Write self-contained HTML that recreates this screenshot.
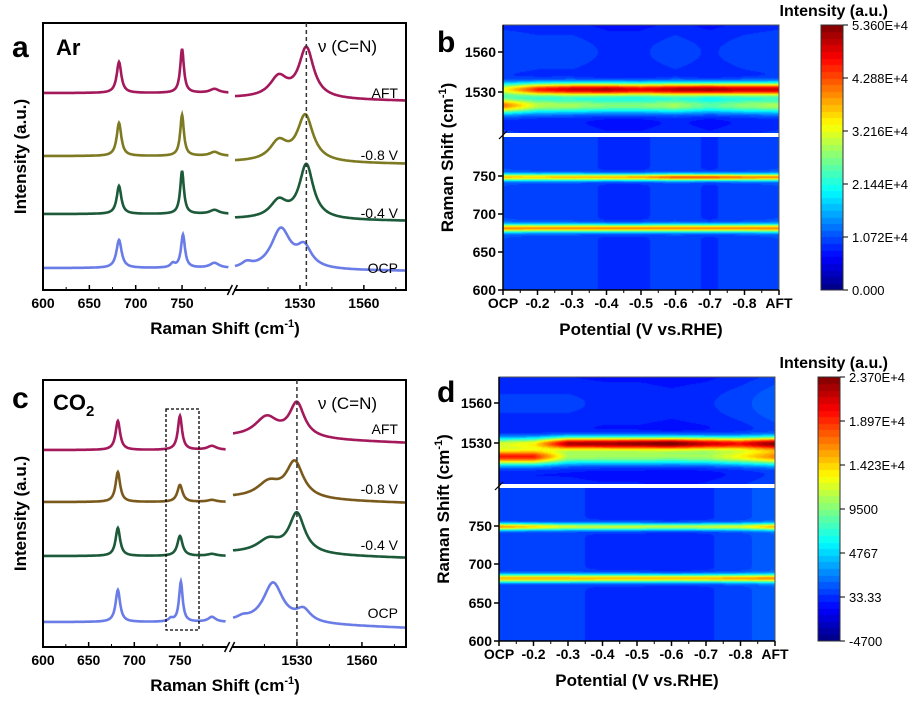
<!DOCTYPE html>
<html><head><meta charset="utf-8"><style>
body{margin:0;background:#fff;width:908px;height:701px;overflow:hidden;position:relative;font-family:"Liberation Sans",Arial,sans-serif}
canvas{position:absolute}
svg{position:absolute;left:0;top:0}
</style></head><body>
<canvas id="hb" width="276" height="265" style="left:503px;top:25px"></canvas>
<canvas id="hd" width="276" height="264" style="left:499px;top:377px"></canvas>
<canvas id="cbb" width="22" height="265" style="left:821px;top:25px"></canvas>
<canvas id="cbd" width="22" height="264" style="left:818px;top:377px"></canvas>
<svg id="s" width="908" height="701"></svg>
<script>
// ---------- DATA ----------
const potentials=['OCP','-0.2','-0.3','-0.4','-0.5','-0.6','-0.7','-0.8','AFT'];
const seriesNames=['AFT','-0.8 V','-0.4 V','OCP'];
// Panel a (Ar) spectra: peaks [position, height, hwhm]
const aBaseLeft=[93,156,214,268];
const aBaseRight=[[98,101],[162,164],[219,221],[270,271]];
const aPeaksLeft=[[[682,31,3],[750,44,2.4],[785,4,6]],[[682,33,3],[750,41,2.4],[785,4,6]],[[682,28,3],[750,43,2.4],[785,4,6]],[[682,28,3.4],[751,33,2.6],[785,5,6],[740,4,3]]];
const aPeaksRight=[[[1520,20,5],[1533,50,4.2]],[[1520,19,5],[1532.5,46,4.5]],[[1520,17,4.8],[1533,54,4]],[[1521,40,5.5],[1532,20,4.2],[1505,5,3]]];
// Panel c (CO2) spectra
const cBaseLeft=[450,502,556,622];
const cBaseRight=[[437,443],[498,503],[553,558],[622,628]];
const cPeaksLeft=[[[682,29,3],[750,34,2.8],[785,4,6]],[[682,30,3],[750,17,3.4],[785,2,6]],[[682,28,3],[750,20,3.4],[785,2,6]],[[682,32,3],[751,40,2.4],[785,5,5],[740,3,3]]];
const cPeaksRight=[[[1516,20,6.5],[1530,34,4.2]],[[1517,15,6.5],[1529,36,4.8]],[[1517,13,6.5],[1530,40,4.4]],[[1519,40,5.5],[1533,12,4],[1505,3,3]]];
// Heatmap b (normalized intensity 0..1 of 5.36E4)
const bBand1532=[0.45,0.7,0.78,0.82,0.76,0.8,0.84,0.78,0.78];
const bBand1520=[0.62,0.42,0.4,0.38,0.38,0.4,0.34,0.38,0.4];
const bBand750=[0.48,0.48,0.5,0.52,0.54,0.6,0.62,0.56,0.54];
const bBand682=[0.54,0.54,0.54,0.56,0.56,0.54,0.56,0.54,0.54];
const bBg=[0.2,0.19,0.19,0.17,0.17,0.19,0.17,0.19,0.2];
// Heatmap d (normalized over -4700..2.37E4)
const dBand1530=[0.4,0.45,0.8,0.82,0.84,0.88,0.78,0.7,0.8];
const dBand1520=[0.72,0.72,0.4,0.4,0.4,0.4,0.4,0.48,0.58];
const dBand750=[0.55,0.48,0.4,0.4,0.4,0.4,0.4,0.4,0.48];
const dBand682=[0.52,0.52,0.52,0.52,0.52,0.52,0.52,0.52,0.52];
const dBg=[0.18,0.18,0.18,0.17,0.17,0.16,0.17,0.19,0.22];
const cbbLabels=['5.360E+4','4.288E+4','3.216E+4','2.144E+4','1.072E+4','0.000'];
const cbdLabels=['2.370E+4','1.897E+4','1.423E+4','9500','4767','33.33','-4700'];
const colors={a:['#a3195b','#7d7a22','#1c5a3a','#6a7ce6'],c:['#a3195b','#7a5a1c','#1c5a3a','#6a7ce6']};

// ---------- helpers ----------
const NS='http://www.w3.org/2000/svg';const svg=document.getElementById('s');
function el(t,a,txt){const e=document.createElementNS(NS,t);for(const k in a)e.setAttribute(k,a[k]);if(txt!==undefined)e.textContent=txt;svg.appendChild(e);return e;}
function text(x,y,s,size,opts){opts=opts||{};const e=el('text',{x:x,y:y,'font-size':size,'font-weight':opts.w||'bold','text-anchor':opts.a||'start',fill:'#000','font-family':'"Liberation Sans",Arial,sans-serif'},s);if(opts.rot)e.setAttribute('transform','rotate(-90 '+x+' '+y+')');return e;}
function lor(x,p){return p[1]/(1+((x-p[0])/p[2])**2);}
function jet(v){v=Math.max(0,Math.min(1,v));const r=Math.min(4*v-1.5,-4*v+4.5),g=Math.min(4*v-0.5,-4*v+3.5),b=Math.min(4*v+0.5,-4*v+2.5);const c=x=>Math.round(255*Math.max(0,Math.min(1,x)));return [c(r),c(g),c(b)];}
function interp(arr,p){const i=Math.min(arr.length-2,Math.floor(p)),f=p-i;return arr[i]*(1-f)+arr[i+1]*f;}

// ---------- spectra panels ----------
function spectra(P){
  const xl=wn=>P.x0+(wn-600)*P.kl, xr=wn=>P.xrs+(wn-P.wr0)*P.kr;
  for(let s=0;s<4;s++){
    let d='';
    for(let wn=600;wn<=800;wn+=0.5){let v=0;P.pl[s].forEach(p=>v+=lor(wn,p));const y=P.bl[s]-v;d+=(wn==600?'M':'L')+xl(wn).toFixed(1)+','+y.toFixed(1);}
    const p1=el('path',{d:d,fill:'none',stroke:P.col[s],'stroke-width':2.6});
    
    
    d='';
    for(let wn=P.wr0;wn<=1580;wn+=0.25){let v=0;P.pr[s].forEach(p=>v+=lor(wn,p));const f=(wn-P.wr0)/(1580-P.wr0);const b=P.br[s][0]*(1-f)+P.br[s][1]*f;d+=(wn==P.wr0?'M':'L')+xr(wn).toFixed(1)+','+(b-v).toFixed(1);}
    const p2=el('path',{d:d,fill:'none',stroke:P.col[s],'stroke-width':2.6});
    
    
    const t=text(398,P.lab[s],seriesNames[s],14,{w:'normal',a:'end'});
  }
  el('rect',{x:43,y:P.y0,width:363,height:P.y1-P.y0,fill:'none',stroke:'#000','stroke-width':2,});
  el('rect',{x:xl(800)+1,y:P.y1-3,width:xr(P.wr0)-xl(800)-2,height:6,fill:'#fff'});
  el('line',{x1:xl(800)-1,y1:P.y1+5,x2:xl(800)+4,y2:P.y1-5,stroke:'#000','stroke-width':1.5});
  el('line',{x1:xl(800)+4,y1:P.y1+5,x2:xl(800)+9,y2:P.y1-5,stroke:'#000','stroke-width':1.5});
  [600,650,700,750].forEach(w=>{el('line',{x1:xl(w),y1:P.y1,x2:xl(w),y2:P.y1-5,stroke:'#000','stroke-width':1.5});text(xl(w),P.y1+18,String(w),14,{a:'middle'});});
  [625,675,725,775].forEach(w=>el('line',{x1:xl(w),y1:P.y1,x2:xl(w),y2:P.y1-3,stroke:'#000','stroke-width':1}));
  [1530,1560].forEach(w=>{el('line',{x1:xr(w),y1:P.y1,x2:xr(w),y2:P.y1-5,stroke:'#000','stroke-width':1.5});text(xr(w),P.y1+18,String(w),14,{a:'middle'});});
  [1515,1545,1575].forEach(w=>el('line',{x1:xr(w),y1:P.y1,x2:xr(w),y2:P.y1-3,stroke:'#000','stroke-width':1}));
  el('line',{x1:xr(P.dash),y1:P.y0,x2:xr(P.dash),y2:P.y1,stroke:'#333','stroke-width':1.5,'stroke-dasharray':'4,3',});
  text(318,P.y0+29,'ν (C=N)',17,{w:'normal'});
  text(225,P.y1+44,'',17,{a:'middle'}).innerHTML='Raman Shift (cm<tspan dy="-7" font-size="11">-1</tspan><tspan dy="7">)</tspan>';
  text(26,P.y0+(P.y1-P.y0)/2,'Intensity (a.u.)',17,{a:'middle',rot:1});
}
spectra({id:'a',x0:43,kl:0.927,xrs:235,wr0:1499.5,kr:2.13,y0:23,y1:290,bl:aBaseLeft,br:aBaseRight,pl:aPeaksLeft,pr:aPeaksRight,col:colors.a,lab:[98,160,218,273],dash:1533});
spectra({id:'c',x0:43,kl:0.913,xrs:233,wr0:1500.5,kr:2.167,y0:380,y1:647,bl:cBaseLeft,br:cBaseRight,pl:cPeaksLeft,pr:cPeaksRight,col:colors.c,lab:[434,494,550,618],dash:1530});
text(12,57,'a',30);text(56,55,'Ar',22);
text(12,408,'c',30);text(53,410,'',22).innerHTML='CO<tspan dy="6" font-size="15">2</tspan>';
el('rect',{x:166,y:409,width:33,height:221,fill:'none',stroke:'#000','stroke-width':1.3,'stroke-dasharray':'3,2',});

// ---------- heatmaps ----------
function heat(cv,P){
  const c=document.getElementById(cv),ctx=c.getContext('2d'),W=c.width,H=c.height,img=ctx.createImageData(W,H);
  for(let y=0;y<H;y++){
    const Y=P.top+y;let wn,top;
    if(Y<P.gapTop){top=true;wn=P.tw0-(Y-P.top)/P.tk;}else{top=false;wn=600+(P.bottom-Y)/P.bk;}
    for(let x=0;x<W;x++){
      const p=x/(W-1)*8;let v=interp(P.bg,p)*(top?(0.85+0.15*Math.cos((wn-1560)/12)):1);
      if(top){v+=interp(P.b1,p)*Math.exp(-0.5*((wn-P.c1)/3.4)**2)+interp(P.b2,p)*Math.exp(-0.5*((wn-1520)/4.2)**2);}
      else{v+=interp(P.b3,p)*Math.exp(-0.5*((wn-749)/3.1)**2)+interp(P.b4,p)*Math.exp(-0.5*((wn-682)/3.6)**2);}
      v=Math.floor(Math.min(1,v)*40)/40+0.0125;
      const col=jet(v),i=(y*W+x)*4;img.data[i]=col[0];img.data[i+1]=col[1];img.data[i+2]=col[2];img.data[i+3]=255;
    }
  }
  ctx.putImageData(img,0,0);
}
heat('hb',{top:25,gapTop:133,bottom:290,tw0:1580,tk:1.333,bk:0.76,c1:1532,b1:bBand1532,b2:bBand1520,b3:bBand750,b4:bBand682,bg:bBg});
heat('hd',{top:377,gapTop:484,bottom:641,tw0:1579.5,tk:1.333,bk:0.77,c1:1530,b1:dBand1530,b2:dBand1520,b3:dBand750,b4:dBand682,bg:dBg});
function cbar(cv){const c=document.getElementById(cv),ctx=c.getContext('2d');for(let y=0;y<c.height;y++){const v=Math.floor((1-y/c.height)*40)/40+0.0125;const k=jet(v);ctx.fillStyle='rgb('+k+')';ctx.fillRect(0,y,c.width,1);}}
cbar('cbb');cbar('cbd');

function mapAxes(P){
  const X=i=>P.x0+i*(P.x1-P.x0)/8;
  el('rect',{x:P.x0,y:P.gap0,width:P.x1-P.x0,height:P.gap1-P.gap0,fill:'#fff'});
  el('rect',{x:P.x0,y:P.y0,width:P.x1-P.x0,height:P.y1-P.y0,fill:'none',stroke:'#555','stroke-width':1,});
  el('line',{x1:P.x0,y1:P.y0,x2:P.x0,y2:P.y1,stroke:'#000','stroke-width':1.5});
  el('line',{x1:P.x0,y1:P.y1,x2:P.x1,y2:P.y1,stroke:'#000','stroke-width':1.5});
  el('line',{x1:P.x0-4,y1:P.gap1+2,x2:P.x0+4,y2:P.gap0-2,stroke:'#000','stroke-width':1.2});
  potentials.forEach((s,i)=>{el('line',{x1:X(i),y1:P.y1,x2:X(i),y2:P.y1+5,stroke:'#000','stroke-width':1.5});if(i<8)el('line',{x1:(X(i)+X(i+1))/2,y1:P.y1,x2:(X(i)+X(i+1))/2,y2:P.y1+3,stroke:'#000'});const t=text(X(i),P.y1+18,s,14,{a:'middle'});});
  P.yt.forEach(t=>{el('line',{x1:P.x0,y1:t[1],x2:P.x0-5,y2:t[1],stroke:'#000','stroke-width':1.5});text(P.x0-7,t[1]+5,String(t[0]),14,{a:'end'});});
  text((P.x0+P.x1)/2,P.y1+45,'Potential (V vs.RHE)',17,{a:'middle'});
  text(P.x0-50,(P.y0+P.y1)/2,'',17,{a:'middle',rot:1}).innerHTML='Raman Shift (cm<tspan dy="-7" font-size="11">-1</tspan><tspan dy="7">)</tspan>';
  text(P.lab,P.y0+P.lbl,P.letter,30);
  text(888,P.y0-9,'Intensity (a.u.)',16,{a:'end'});
  el('rect',{x:P.cx,y:P.y0,width:22,height:P.y1-P.y0,fill:'none',stroke:'#333','stroke-width':1});
  P.cl.forEach((s,i)=>{const y=P.y0+i*(P.y1-P.y0)/(P.cl.length-1);el('line',{x1:P.cx+22,y1:y,x2:P.cx+27,y2:y,stroke:'#000'});const t=text(P.cx+31,y+5,s,13,{w:'normal'});});
}
mapAxes({id:'b',letter:'b',lab:437,lbl:27,x0:503,x1:779,y0:25,y1:290,gap0:133,gap1:137,cx:821,cl:cbbLabels,yt:[[1560,52],[1530,92],[750,176],[700,214],[650,252],[600,290]]});
mapAxes({id:'d',letter:'d',lab:437,lbl:25,x0:499,x1:775,y0:377,y1:641,gap0:484,gap1:488,cx:818,cl:cbdLabels,yt:[[1560,403],[1530,443],[750,526],[700,564],[650,603],[600,641]]});
</script>
</body></html>
